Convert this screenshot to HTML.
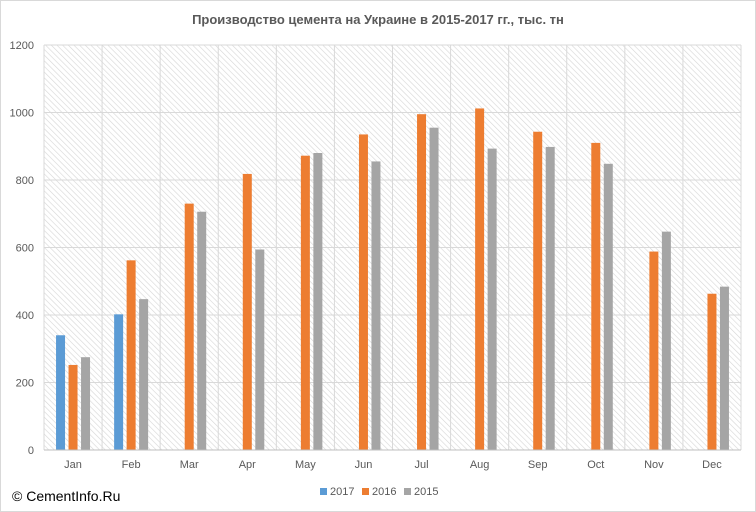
<!DOCTYPE html>
<html><head><meta charset="utf-8"><style>
body{margin:0;background:#fff;}
svg{display:block;font-family:"Liberation Sans",sans-serif;}
</style></head><body>
<svg id="c" width="756" height="512">
<defs><pattern id="hatch" width="4" height="4" patternUnits="userSpaceOnUse" patternTransform="rotate(-45)">
<rect width="4" height="4" fill="#fff"/><line x1="0" y1="0" x2="0" y2="4" stroke="#d6d6d6" stroke-width="1.2"/></pattern></defs>
<rect x="0.5" y="0.5" width="755" height="511" fill="#fff" stroke="#d9d9d9"/>
<text x="378" y="24" text-anchor="middle" font-size="13" font-weight="bold" fill="#595959">Производство цемента на Украине в 2015-2017 гг., тыс. тн</text>
<g id="plot"></g>
<text x="12" y="501" font-size="14" fill="#000">© CementInfo.Ru</text>
</svg>
<script>
const categories=["Jan","Feb","Mar","Apr","May","Jun","Jul","Aug","Sep","Oct","Nov","Dec"];
const s2017=[340,402,null,null,null,null,null,null,null,null,null,null];
const s2016=[252,562,730,818,872,935,995,1012,943,910,588,463];
const s2015=[275,447,706,594,880,855,955,893,898,848,647,484];
const yTicks=[0,200,400,600,800,1000,1200];
const seriesNames=["2017","2016","2015"];
const colors=["#5b9bd5","#ed7d31","#a5a5a5"];
const L=44,R=741,T=45,B=450,yMax=1200;
const y=v=>B-(v/yMax)*(B-T);
const bw=(R-L)/categories.length;
const x=i=>L+i*bw;
const g=document.getElementById('plot');
const NS="http://www.w3.org/2000/svg";
function mk(t,a){const e=document.createElementNS(NS,t);for(const k in a)e.setAttribute(k,a[k]);g.appendChild(e);return e;}
let bg=mk('rect',{x:L,y:T,width:R-L,height:B-T,fill:'url(#hatch)'});


yTicks.forEach(v=>{
 let l=mk('line',{x1:L,x2:R,y1:y(v),y2:y(v),stroke:'#d9d9d9'});
 
 
 let t=mk('text',{x:L-10,y:y(v)+4,'text-anchor':'end','font-size':'11',fill:'#595959'});
 t.textContent=v;
 
 
});
for(let i=0;i<=categories.length;i++){
 let l=mk('line',{x1:x(i),x2:x(i),y1:T,y2:B,stroke:'#d9d9d9'});
 
 
}
const series=[s2017,s2016,s2015];
categories.forEach((c,i)=>{
 const cx=x(i)+bw/2;
 series.forEach((s,k)=>{
  if(s[i]==null)return;
  const bx=cx-4.5+(k-1)*12.5;
  let r=mk('rect',{x:bx,y:y(s[i]),width:9,height:B-y(s[i]),fill:colors[k]});
  
  
 });
 let t=mk('text',{x:cx,y:B+18,'text-anchor':'middle','font-size':'11',fill:'#595959'});
 t.textContent=c;
 
 
});
let ax=mk('line',{x1:L,x2:R,y1:B,y2:B,stroke:'#bfbfbf'});


const lx=[320,362,404];
seriesNames.forEach((n,k)=>{
 let r=mk('rect',{x:lx[k],y:488,width:7,height:7,fill:colors[k]});
 
 
 let t=mk('text',{x:lx[k]+10,y:495,'font-size':'11',fill:'#595959'});
 t.textContent=n;
 
 
});
</script>
</body></html>
